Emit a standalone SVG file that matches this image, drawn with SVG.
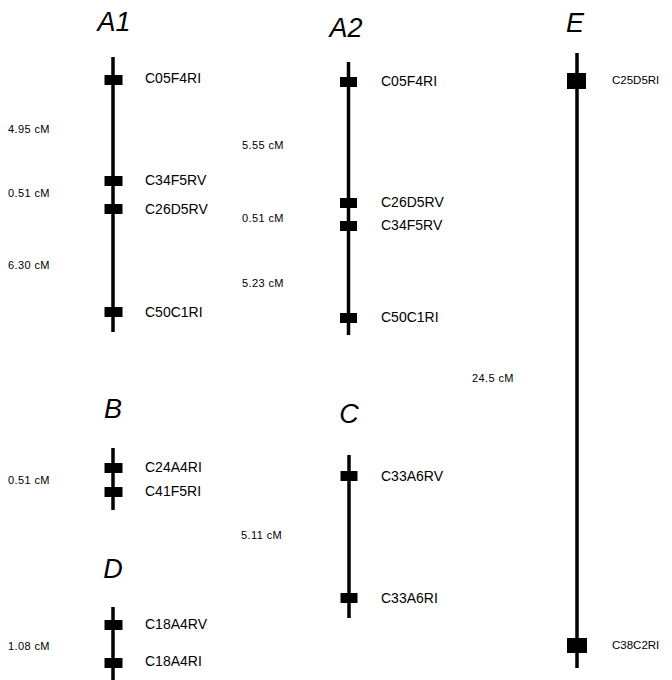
<svg xmlns="http://www.w3.org/2000/svg" width="672" height="680" viewBox="0 0 672 680">
<style>
.title{font-family:"Liberation Sans",Arial,sans-serif;font-style:italic;font-size:27px;fill:#000;text-anchor:middle}
.mk{font-family:"Liberation Sans",Arial,sans-serif;font-size:14px;fill:#000;dominant-baseline:central}
.mks{font-family:"Liberation Sans",Arial,sans-serif;font-size:11.5px;fill:#000;dominant-baseline:central}
.cm{font-family:"Liberation Sans",Arial,sans-serif;font-size:11px;letter-spacing:0.4px;fill:#000;dominant-baseline:central}
.chr{stroke:#000;stroke-width:3.5;fill:none}
.box{fill:#000}
</style>
<rect width="672" height="680" fill="#fff"/>
<g id="connectors">
<line class="chr" x1="113" y1="57" x2="113" y2="332"/>
<line class="chr" x1="348.5" y1="62" x2="348.5" y2="335"/>
<line class="chr" x1="113" y1="448" x2="113" y2="510"/>
<line class="chr" x1="113" y1="607" x2="113" y2="680"/>
<line class="chr" x1="349" y1="455" x2="349" y2="618"/>
<line class="chr" x1="577" y1="53" x2="577" y2="668"/>
</g>
<g id="A1">
<text class="title" x="114" y="31">A1</text>
<rect class="box" x="104.5" y="75" width="18" height="10"/>
<rect class="box" x="104.5" y="176" width="18" height="10"/>
<rect class="box" x="104.5" y="204" width="18" height="10"/>
<rect class="box" x="104.5" y="307" width="18" height="10"/>
<text class="mk" x="145" y="78">C05F4RI</text>
<text class="mk" x="145" y="180">C34F5RV</text>
<text class="mk" x="145" y="209">C26D5RV</text>
<text class="mk" x="145" y="312">C50C1RI</text>
<text class="cm" x="8" y="129">4.95 cM</text>
<text class="cm" x="8" y="193">0.51 cM</text>
<text class="cm" x="8" y="265">6.30 cM</text>
</g>
<g id="A2">
<text class="title" x="346" y="37">A2</text>
<rect class="box" x="340" y="77" width="17" height="10"/>
<rect class="box" x="340" y="198" width="17" height="10"/>
<rect class="box" x="340" y="221" width="17" height="10"/>
<rect class="box" x="340" y="313" width="17" height="10"/>
<text class="mk" x="381" y="81">C05F4RI</text>
<text class="mk" x="381" y="202">C26D5RV</text>
<text class="mk" x="381" y="225">C34F5RV</text>
<text class="mk" x="381" y="317">C50C1RI</text>
<text class="cm" x="242" y="145">5.55 cM</text>
<text class="cm" x="242" y="218">0.51 cM</text>
<text class="cm" x="242" y="283">5.23 cM</text>
</g>
<g id="E">
<text class="title" x="575" y="32">E</text>
<rect class="box" x="567" y="73" width="19" height="16"/>
<rect class="box" x="567" y="638" width="20" height="15"/>
<text class="mks" x="612" y="80">C25D5RI</text>
<text class="mks" x="612" y="645">C38C2RI</text>
<text class="cm" x="472" y="378">24.5 cM</text>
</g>
<g id="B">
<text class="title" x="113" y="418">B</text>
<rect class="box" x="104.5" y="463" width="18" height="10"/>
<rect class="box" x="104.5" y="487" width="18" height="10"/>
<text class="mk" x="145" y="467">C24A4RI</text>
<text class="mk" x="145" y="491">C41F5RI</text>
<text class="cm" x="8" y="480">0.51 cM</text>
</g>
<g id="D">
<text class="title" x="113" y="578">D</text>
<rect class="box" x="104.5" y="620" width="18" height="10"/>
<rect class="box" x="104.5" y="658" width="18" height="10"/>
<text class="mk" x="145" y="624">C18A4RV</text>
<text class="mk" x="145" y="661">C18A4RI</text>
<text class="cm" x="8" y="646">1.08 cM</text>
</g>
<g id="C">
<text class="title" x="349" y="423">C</text>
<rect class="box" x="340.5" y="471" width="17" height="10"/>
<rect class="box" x="340.5" y="593" width="17" height="10"/>
<text class="mk" x="381" y="476">C33A6RV</text>
<text class="mk" x="381" y="598">C33A6RI</text>
<text class="cm" x="241" y="535">5.11 cM</text>
</g>
</svg>
